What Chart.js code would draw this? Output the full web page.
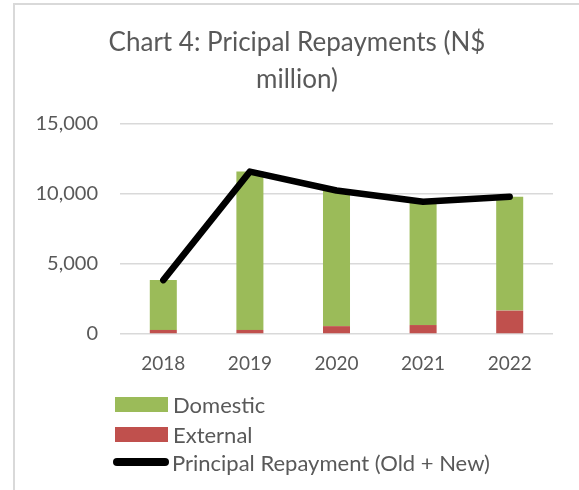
<!DOCTYPE html>
<html>
<head>
<meta charset="utf-8">
<script src="https://cdn.jsdelivr.net/npm/chart.js@4.4.1/dist/chart.umd.min.js"></script>
<style>
  html, body { margin: 0; padding: 0; background: #fff; }
  #wrap { position: relative; width: 579px; height: 490px; overflow: hidden; background: #fff; }
  #frame { position: absolute; left: 13px; top: 3px; width: 600px; height: 500px;
           border-left: 2px solid #d9d9d9; border-top: 2px solid #d9d9d9; box-sizing: border-box; }
  #c { position: absolute; left: 0; top: 0; }
  .leg { position: absolute; left: 115px; height: 30px; display: flex; align-items: center;
         font-family: Lato, sans-serif; font-size: 22px; color: #595959; white-space: nowrap; }
  .leg .sw { width: 53px; height: 15px; margin-right: 5px; }
  .leg .ln { width: 56px; height: 8px; border-radius: 4px; background: #000; margin-left: -2px; margin-right: 3px; }
</style>
</head>
<body>
<div id="wrap">
  <div id="frame"></div>
  <canvas id="c" width="579" height="390"></canvas>
  <div class="leg" style="top:389px"><div class="sw" style="background:#9BBB59"></div><span>Domestic</span></div>
  <div class="leg" style="top:419px"><div class="sw" style="background:#C0504D"></div><span>External</span></div>
  <div class="leg" style="top:447px"><div class="ln"></div><span>Principal Repayment (Old + New)</span></div>
</div>
<script>
const years = ['2018', '2019', '2020', '2021', '2022'];
const domestic = [3560, 11310, 9690, 8810, 8140];
const external = [290, 290, 560, 640, 1670];
const principalRepayment = [3850, 11600, 10250, 9450, 9810];
const titleLines = ['Chart 4: Pricipal Repayments (N$', 'million)'];
const yMin = 0, yMax = 15000, yStep = 5000;

const FONT = 'Lato, sans-serif';
const GREY = '#595959';

// centre the title over the whole chart frame rather than over the plot
const shiftTitle = {
  id: 'shiftTitle',
  afterLayout(chart) {
    if (chart.titleBlock) { chart.titleBlock.left = 41; chart.titleBlock.right = 553; }
  }
};

new Chart(document.getElementById('c'), {
  data: {
    labels: years,
    datasets: [
      { type: 'bar', label: 'External', data: external, backgroundColor: '#C0504D',
        stack: 's', order: 1, categoryPercentage: 0.8, barPercentage: 0.39 },
      { type: 'bar', label: 'Domestic', data: domestic, backgroundColor: '#9BBB59',
        stack: 's', order: 1, categoryPercentage: 0.8, barPercentage: 0.39 },
      { type: 'line', label: 'Principal Repayment (Old + New)', data: principalRepayment,
        borderColor: '#000', borderWidth: 6.5, pointRadius: 0, tension: 0,
        borderCapStyle: 'round', borderJoinStyle: 'round', order: 0, fill: false }
    ]
  },
  plugins: [shiftTitle],
  options: {
    responsive: false,
    animation: false,
    devicePixelRatio: 1,
    layout: { padding: { left: 0, right: 26, top: 0, bottom: 0 } },
    plugins: {
      legend: { display: false },
      tooltip: { enabled: false },
      title: {
        display: true, text: titleLines, color: GREY,
        font: { family: FONT, size: 26, weight: 'normal', lineHeight: '37px' },
        padding: { top: 24, bottom: 26 }
      }
    },
    scales: {
      x: {
        stacked: true,
        grid: { display: false, drawTicks: false },
        border: { display: false },
        ticks: { color: GREY, font: { family: FONT, size: 19 }, padding: 18, maxRotation: 0 },
        afterFit: s => { s.height = 56; }
      },
      y: {
        stacked: true,
        min: yMin, max: yMax,
        grid: { color: '#d9d9d9', lineWidth: 1.5, drawTicks: false },
        border: { display: false },
        ticks: { stepSize: yStep, color: GREY, font: { family: FONT, size: 20 }, padding: 22,
                 callback: v => v.toLocaleString('en-US') },
        afterFit: s => { s.width = 120; }
      }
    }
  }
});
</script>
</body>
</html>
